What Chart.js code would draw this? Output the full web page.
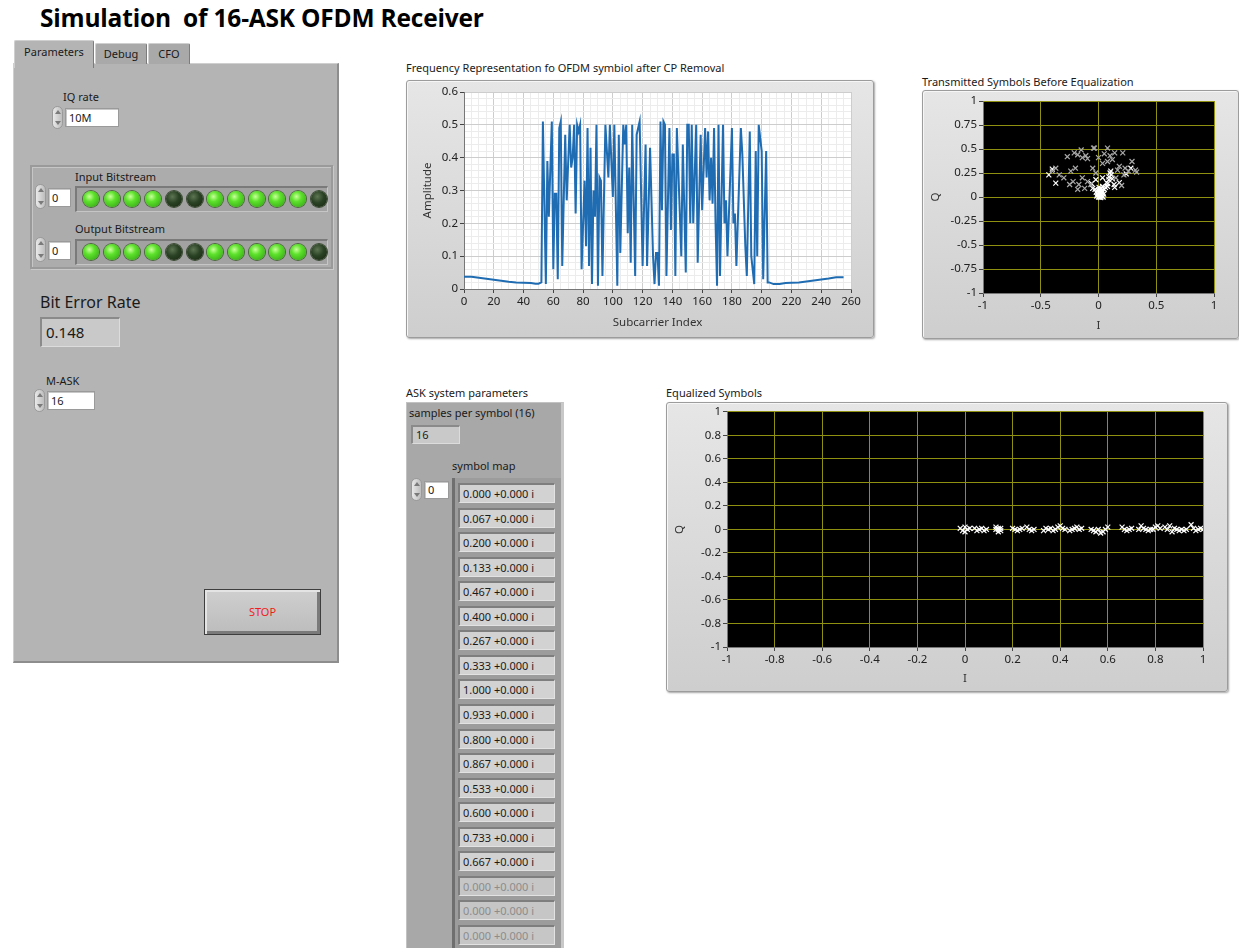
<!DOCTYPE html>
<html>
<head>
<meta charset="utf-8">
<script src="https://cdn.jsdelivr.net/npm/chart.js@4.4.1/dist/chart.umd.min.js"></script>
<style>
body { margin:0; background:#fff; font-family:"Noto Sans", sans-serif; color:#1a1a1a; width:1239px; height:948px; overflow:hidden; position:relative; }
.title { position:absolute; left:40px; top:1px; font-family:"Open Sans", sans-serif; font-size:24.5px; font-weight:bold; color:#000; white-space:nowrap; letter-spacing:-0.2px; }
.lbl { position:absolute; font-size:11px; white-space:nowrap; color:#1a1a1a; }
.frame { position:absolute; background:linear-gradient(#e6e6e6,#cecece); border:1px solid #9c9c9c; border-radius:3px; box-shadow:1px 1px 2px rgba(0,0,0,.35), inset 1px 1px 0 #f6f6f6; }
.frame canvas { position:absolute; left:0; top:0; }
.panel { position:absolute; left:13px; top:63px; width:323px; height:597px; background:#b4b4b4; border-left:1px solid #cfcfcf; border-top:1px solid #cfcfcf; border-right:2px solid #8d8d8d; border-bottom:2px solid #8d8d8d; }
.tab { position:absolute; font-size:11px; text-align:center; background:#a9a9a9; border:1px solid #cfcfcf; border-right:1px solid #7c7c7c; border-bottom:none; border-radius:2px 2px 0 0; }
.tab.on { background:#b4b4b4; z-index:2; }
.spin { position:absolute; width:11px; border-radius:6px; background:linear-gradient(90deg,#e9e9e9,#bdbdbd); border:1px solid #9a9a9a; box-sizing:border-box; }
.spin:before, .spin:after { content:""; position:absolute; left:2px; border-left:3px solid transparent; border-right:3px solid transparent; }
.spin:before { top:3px; border-bottom:4px solid #7a7a7a; }
.spin:after { bottom:3px; border-top:4px solid #7a7a7a; }
.num { position:absolute; background:#fff; border:1px solid #9a9a9a; box-shadow:inset 1px 1px 0 #c8c8c8; font-size:11px; padding-left:3px; box-sizing:border-box; line-height:17px; }
.cluster { position:absolute; left:30px; top:165px; width:299px; height:100px; background:#acacac; border:2px solid #9a9a9a; box-shadow:inset 1px 1px 0 #c6c6c6, 1px 1px 0 #c9c9c9; }
.ledbox { position:absolute; height:23px; background:#a2a2a2; border-top:2px solid #7a7a7a; border-left:2px solid #7a7a7a; border-bottom:1px solid #c6c6c6; border-right:1px solid #c6c6c6; }
.led { position:absolute; width:16px; height:16px; border-radius:50%; top:3px; }
.led.g { background:radial-gradient(circle at 40% 35%, #c8ff9a 0%, #5ee22c 35%, #2f9d12 100%); box-shadow:0 0 0 1px #4a6a3a; }
.led.d { background:radial-gradient(circle at 40% 35%, #5d7552 0%, #2a4224 45%, #16240f 100%); box-shadow:0 0 0 1px #3a4a32; }
.ind { position:absolute; background:#c9c9c9; border-top:2px solid #8a8a8a; border-left:2px solid #8a8a8a; border-bottom:1px solid #dcdcdc; border-right:1px solid #dcdcdc; box-sizing:border-box; }
.stop { position:absolute; left:204px; top:589px; width:117px; height:46px; box-sizing:border-box; border:1px solid #3e3e3e; background:linear-gradient(#cfcfcf,#bcbcbc); box-shadow:inset 2px 2px 0 #e4e4e4, inset -3px -3px 0 #7a7a7a; color:#ee1c1c; font-size:11px; text-align:center; line-height:44px; }
.ask { position:absolute; left:406px; top:402px; width:154px; height:560px; background:#a8a8a8; border-left:1px solid #c2c2c2; border-top:1px solid #c2c2c2; border-right:3px solid #c8c8c8; }
.arr { position:absolute; left:452px; top:478px; width:106px; height:480px; background:#9c9c9c; border-left:3px solid #6f6f6f; }
.cell { position:absolute; left:458px; width:97px; height:20px; box-sizing:border-box; background:#d2d2d2; border-top:2px solid #7e7e7e; border-left:2px solid #7e7e7e; border-bottom:1px solid #e2e2e2; border-right:1px solid #e2e2e2; font-size:11px; line-height:17px; padding-left:3px; white-space:nowrap; }
.cell.off { color:#8c8c8c; background:#c6c6c6; }
</style>
</head>
<body>
<div class="title">Simulation&nbsp; of 16-ASK OFDM Receiver</div>

<!-- tab control -->
<div class="panel"></div>
<div class="tab on" style="left:14px;top:40px;width:78px;height:27px;line-height:22px;">Parameters</div>
<div class="tab" style="left:95px;top:43px;width:50px;height:20px;line-height:20px;">Debug</div>
<div class="tab" style="left:148px;top:43px;width:40px;height:20px;line-height:20px;">CFO</div>

<div class="lbl" style="left:63px;top:89px;">IQ rate</div>
<div class="spin" style="left:52px;top:106px;height:23px;"></div>
<div class="num" style="left:65px;top:108px;width:54px;height:19px;">10M</div>

<div class="cluster"></div>
<div class="lbl" style="left:75px;top:169px;">Input Bitstream</div>
<div class="spin" style="left:35px;top:184px;height:25px;"></div>
<div class="num" style="left:48px;top:188px;width:23px;height:19px;">0</div>
<div class="ledbox" id="ledIn" style="left:75px;top:186px;width:250px;"></div>
<div class="lbl" style="left:75px;top:221px;">Output Bitstream</div>
<div class="spin" style="left:35px;top:237px;height:25px;"></div>
<div class="num" style="left:48px;top:241px;width:23px;height:19px;">0</div>
<div class="ledbox" id="ledOut" style="left:75px;top:239px;width:250px;"></div>

<div class="lbl" style="left:40px;top:291px;font-size:16px;">Bit Error Rate</div>
<div class="ind" style="left:40px;top:317px;width:80px;height:30px;font-size:15px;line-height:26px;padding-left:4px;" id="ber"></div>

<div class="lbl" style="left:46px;top:373px;">M-ASK</div>
<div class="spin" style="left:34px;top:389px;height:23px;"></div>
<div class="num" style="left:47px;top:391px;width:48px;height:19px;" id="mask"></div>

<div class="stop">STOP</div>

<!-- frequency graph -->
<div class="lbl" style="left:406px;top:60px;">Frequency Representation fo OFDM symbiol after CP Removal</div>
<div class="frame" style="left:406px;top:80px;width:466px;height:256px;"><canvas id="freqChart" width="466" height="256"></canvas></div>

<!-- transmitted symbols -->
<div class="lbl" style="left:922px;top:74px;">Transmitted Symbols Before Equalization</div>
<div class="frame" style="left:922px;top:90px;width:315px;height:247px;"><canvas id="txChart" width="315" height="247"></canvas></div>

<!-- ASK parameters -->
<div class="lbl" style="left:406px;top:385px;">ASK system parameters</div>
<div class="ask"></div>
<div class="lbl" style="left:409px;top:405px;">samples per symbol (16)</div>
<div class="ind" style="left:411px;top:425px;width:49px;height:19px;font-size:11px;line-height:15px;padding-left:3px;">16</div>
<div class="lbl" style="left:452px;top:458px;">symbol map</div>
<div class="arr"></div>
<div class="spin" style="left:411px;top:478px;height:23px;"></div>
<div class="num" style="left:424px;top:481px;width:25px;height:18px;line-height:15px;">0</div>
<div id="symMap"></div>

<!-- equalized symbols -->
<div class="lbl" style="left:666px;top:385px;">Equalized Symbols</div>
<div class="frame" style="left:666px;top:402px;width:560px;height:288px;"><canvas id="eqChart" width="560" height="288"></canvas></div>

<script>
// ---- values ----
const berValue = '0.148';
const mAsk = '16';
const inputBits = [1, 1, 1, 1, 0, 0, 1, 1, 1, 1, 1, 0];
const outputBits = [1, 1, 1, 1, 0, 0, 1, 1, 1, 1, 1, 0];
const symbolMap = ['0.000', '0.067', '0.200', '0.133', '0.467', '0.400', '0.267', '0.333',
                   '1.000', '0.933', '0.800', '0.867', '0.533', '0.600', '0.733', '0.667'];

// spectrum: subcarrier index vs amplitude
const freqIndex = [0, 5, 10, 15, 20, 25, 30, 35, 40, 45, 48, 50, 52,
  53, 55, 56, 57, 59, 60, 61, 62, 63, 64, 65, 66, 68, 69, 71, 72, 73, 74, 75, 76, 77, 78, 79,
  81, 82, 83, 84, 85, 86, 87, 88, 89, 90, 91, 92, 93, 95, 97, 98, 100, 101, 103, 104, 105,
  107, 108, 109, 110, 111, 112, 113, 115, 116, 118, 120, 122, 123, 125, 127, 128, 129, 130,
  131, 132, 133, 134, 135, 136, 138, 139, 140, 141, 142, 143, 146, 147, 149, 150, 151, 152,
  153, 154, 156, 157, 159, 160, 162, 163, 164, 165, 166, 167, 168, 169, 170, 171, 172, 174,
  175, 176, 177, 180, 181, 182, 183, 186, 187, 189, 190, 192, 193, 195, 196, 197, 198, 200,
  201, 203, 204,
  205, 208, 212, 216, 220, 225, 230, 235, 240, 245, 250, 255];
const freqAmp = [0.037, 0.037, 0.034, 0.031, 0.028, 0.025, 0.022, 0.020, 0.019, 0.018, 0.016, 0.016, 0.020,
  0.51, 0.015, 0.39, 0.22, 0.51, 0.06, 0.29, 0.29, 0.03, 0.49, 0.51, 0.07, 0.47, 0.27, 0.50, 0.37, 0.40, 0.50, 0.23, 0.50, 0.48, 0.50, 0.06,
  0.33, 0.13, 0.49, 0.07, 0.43, 0.015, 0.30, 0.22, 0.50, 0.01, 0.34, 0.33, 0.04, 0.50, 0.34, 0.50, 0.28, 0.50, 0.01, 0.47, 0.11,
  0.50, 0.44, 0.50, 0.17, 0.37, 0.08, 0.50, 0.04, 0.47, 0.51, 0.07, 0.44, 0.07, 0.43, 0.10, 0.015, 0.11, 0.11,
  0.01, 0.51, 0.24, 0.51, 0.50, 0.04, 0.49, 0.18, 0.41, 0.41, 0.04, 0.49, 0.10, 0.44, 0.05, 0.50, 0.50, 0.20,
  0.50, 0.20, 0.50, 0.08, 0.47, 0.24, 0.49, 0.34, 0.48, 0.27, 0.40, 0.26, 0.49, 0.20, 0.01, 0.50, 0.04, 0.50,
  0.20, 0.27, 0.10, 0.49, 0.20, 0.23, 0.07, 0.49, 0.41, 0.13, 0.04, 0.48, 0.10, 0.015, 0.42, 0.10, 0.50, 0.42,
  0.03, 0.42, 0.02,
  0.020, 0.015, 0.015, 0.018, 0.019, 0.020, 0.023, 0.026, 0.029, 0.032, 0.036, 0.036];
const freqXTicks = [0, 20, 40, 60, 80, 100, 120, 140, 160, 180, 200, 220, 240, 260];
const freqYTicks = [0, 0.1, 0.2, 0.3, 0.4, 0.5, 0.6];

// constellation before equalization (dim and bright markers)
const txDimI = [-0.043, -0.035, 0.078, -0.15, -0.21, -0.27, -0.14, -0.095, 0.0, 0.05, 0.14, 0.21, 0.12, 0.035, 0.078,
  0.29, 0.32, 0.33, 0.23, 0.165, -0.37, -0.40, -0.34, -0.30, -0.24, -0.20, -0.22, -0.25, -0.17, -0.18, -0.14,
  -0.095, -0.066, -0.12, -0.023, 0.15, 0.22, 0.26, -0.18, -0.11, 0.10, 0.18, -0.05, 0.20];
const txDimQ = [0.51, 0.51, 0.51, 0.49, 0.46, 0.42, 0.41, 0.40, 0.41, 0.45, 0.46, 0.46, 0.39, 0.35, 0.37,
  0.37, 0.28, 0.26, 0.30, 0.28, 0.30, 0.27, 0.23, 0.20, 0.27, 0.30, 0.16, 0.13, 0.13, 0.08, 0.20,
  0.16, 0.13, 0.09, 0.25, 0.20, 0.23, 0.27, 0.44, 0.43, 0.43, 0.32, 0.30, 0.12];
const txBrightI = [-0.43, -0.37, -0.40, 0.106, 0.09, 0.035, 0.18, 0.135, 0.078, 0.035, -0.05, -0.023, 0.10, 0.09,
  0.12, 0.11, 0.07, 0.14, 0.0, 0.01, 0.02, -0.01, 0.005, 0.015, 0.03, 0.0, 0.02, -0.015, 0.025, 0.01, 0.035,
  -0.005, 0.04, 0.01, 0.02, 0.0, 0.03, -0.02, 0.045, 0.05, 0.06, 0.08, -0.03, 0.005, 0.025, -0.06, 0.24, 0.28];
const txBrightQ = [0.23, 0.145, 0.29, 0.27, 0.21, 0.20, 0.15, 0.13, 0.11, 0.11, 0.09, 0.18, 0.25, 0.18,
  0.19, 0.23, 0.15, 0.10, 0.0, 0.01, 0.02, 0.03, 0.05, 0.04, 0.01, 0.07, 0.06, 0.01, 0.03, 0.08, 0.05,
  0.02, 0.0, 0.0, -0.005, 0.04, 0.07, 0.05, 0.03, 0.08, 0.10, 0.14, 0.08, 0.10, 0.09, 0.14, 0.24, 0.30];
const txITicks = [-1, -0.5, 0, 0.5, 1];
const txQTicks = [-1, -0.75, -0.5, -0.25, 0, 0.25, 0.5, 0.75, 1];

// constellation after equalization
const eqI = [-0.02, 0.0, 0.01, -0.01, 0.02, 0.0,
  0.04, 0.06, 0.07, 0.08, 0.05, 0.09,
  0.13, 0.14, 0.15, 0.14, 0.13, 0.15, 0.14,
  0.20, 0.22, 0.23, 0.21, 0.24,
  0.26, 0.27, 0.28, 0.29,
  0.33, 0.35, 0.34, 0.36, 0.37,
  0.39, 0.40, 0.41, 0.38, 0.42,
  0.44, 0.46, 0.47, 0.48, 0.49, 0.45,
  0.53, 0.54, 0.55, 0.56, 0.57, 0.58,
  0.60, 0.59,
  0.66, 0.67, 0.68, 0.69, 0.70,
  0.73, 0.74, 0.75, 0.76, 0.77,
  0.79, 0.80, 0.81, 0.82, 0.78,
  0.84, 0.85, 0.86, 0.87, 0.88,
  0.89, 0.90, 0.91, 0.92, 0.93,
  0.95, 0.96, 0.97, 0.98, 0.99, 1.0];
const eqQ = [0.01, -0.02, 0.0, -0.01, 0.01, 0.02,
  0.01, 0.0, 0.01, -0.01, -0.01, 0.0,
  0.0, 0.01, -0.01, -0.02, 0.02, 0.01, 0.0,
  0.01, -0.01, 0.0, 0.0, 0.01,
  0.02, 0.0, -0.01, 0.0,
  -0.01, 0.0, 0.01, 0.01, -0.01,
  0.02, 0.03, 0.01, 0.0, 0.0,
  -0.01, 0.01, 0.02, 0.0, 0.01, 0.0,
  0.0, -0.01, -0.02, 0.0, -0.03, -0.02,
  0.02, 0.0,
  0.02, 0.0, -0.01, 0.0, 0.01,
  0.0, 0.03, 0.01, 0.0, -0.01,
  0.0, 0.02, 0.03, 0.01, 0.0,
  0.02, 0.0, 0.03, -0.02, 0.01,
  0.0, -0.01, 0.0, -0.01, 0.0,
  0.04, 0.01, -0.01, 0.0, 0.01, 0.0];
const eqTicks = [-1, -0.8, -0.6, -0.4, -0.2, 0, 0.2, 0.4, 0.6, 0.8, 1];

// ---- front panel widgets ----
function drawLeds(id, bits) {
  const box = document.getElementById(id);
  bits.forEach((b, i) => {
    const d = document.createElement('div');
    d.className = 'led ' + (b ? 'g' : 'd');
    d.style.left = (6 + i * 20.7) + 'px';
    box.appendChild(d);
  });
}
drawLeds('ledIn', inputBits);
drawLeds('ledOut', outputBits);
document.getElementById('ber').textContent = berValue;
document.getElementById('mask').textContent = mAsk;

const mapBox = document.getElementById('symMap');
for (let i = 0; i < 19; i++) {
  const c = document.createElement('div');
  const used = i < symbolMap.length;
  c.className = 'cell' + (used ? '' : ' off');
  c.style.top = (483 + i * 24.55) + 'px';
  c.textContent = (used ? symbolMap[i] : '0.000') + ' +0.000 i';
  mapBox.appendChild(c);
}

// ---- charts ----
Chart.defaults.font.family = '"Noto Sans", sans-serif';
Chart.defaults.font.size = 11;
Chart.defaults.color = '#222';

const plotBg = {
  id: 'plotBg',
  beforeDraw(chart, args, opts) {
    const a = chart.chartArea;
    chart.ctx.save();
    chart.ctx.fillStyle = opts.color;
    chart.ctx.fillRect(a.left, a.top, a.right - a.left, a.bottom - a.top);
    chart.ctx.restore();
  }
};

function axis(ticks, labelOf, opts) {
  return {
    type: 'linear',
    min: ticks[0],
    max: ticks[ticks.length - 1],
    afterBuildTicks: s => { s.ticks = opts.values.map(v => ({ value: v })); },
    afterFit: s => { if (opts.width) s.width = opts.width; if (opts.height) s.height = opts.height; },
    ticks: { autoSkip: false, maxRotation: 0, padding: 2, color: '#222', font: { size: 11.5 }, callback: labelOf },
    grid: { color: opts.grid, tickColor: opts.tick, tickLength: 4, drawTicks: true },
    border: { display: true, color: '#777' },
    title: { display: true, text: opts.title, color: '#333', font: { size: 11.5 }, padding: opts.titlePad || 2 }
  };
}

// frequency graph with minor grid lines
const fxAll = [], fyAll = [];
for (let v = 0; v <= 260; v += 5) fxAll.push(v);
for (let k = 0; k <= 30; k++) fyAll.push(Math.round(k * 2) / 100);
const isMajX = v => freqXTicks.includes(v);
const isMajY = v => freqYTicks.includes(Math.round(v * 100) / 100);

new Chart(document.getElementById('freqChart'), {
  type: 'scatter',
  data: {
    datasets: [{
      data: freqIndex.map((x, i) => ({ x: x, y: freqAmp[i] })),
      showLine: true,
      borderColor: '#1f6cb2',
      borderWidth: 2,
      pointRadius: 0,
      tension: 0
    }]
  },
  options: {
    responsive: false,
    animation: false,
    events: [],
    layout: { padding: { top: 11, right: 22, left: 0, bottom: 0 } },
    plugins: { legend: { display: false }, tooltip: { enabled: false }, plotBg: { color: '#ffffff' } },
    scales: {
      x: axis(freqXTicks, v => isMajX(v) ? String(v) : '', {
        values: fxAll, height: 48, title: 'Subcarrier Index', titlePad: { top: 0, bottom: 7 },
        grid: c => isMajX(c.tick.value) ? '#cdcdcd' : '#ececec',
        tick: c => isMajX(c.tick.value) ? '#444' : 'rgba(0,0,0,0)'
      }),
      y: axis(freqYTicks, v => isMajY(v) ? String(Math.round(v * 10) / 10) : '', {
        values: fyAll, width: 57, title: 'Amplitude', titlePad: { top: 14, bottom: 0 },
        grid: c => isMajY(c.tick.value) ? '#cdcdcd' : '#ececec',
        tick: c => isMajY(c.tick.value) ? '#444' : 'rgba(0,0,0,0)'
      })
    }
  },
  plugins: [plotBg]
});

function constellation(id, sets, iTicks, qTicks, pad, w, h) {
  new Chart(document.getElementById(id), {
    type: 'scatter',
    data: {
      datasets: sets.map(s => ({
        data: s.i.map((x, k) => ({ x: x, y: s.q[k] })),
        pointStyle: 'crossRot',
        pointRadius: 3.5,
        borderWidth: 1.2,
        borderColor: s.color,
        backgroundColor: s.color
      }))
    },
    options: {
      responsive: false,
      animation: false,
      events: [],
      layout: { padding: pad },
      plugins: { legend: { display: false }, tooltip: { enabled: false }, plotBg: { color: '#000000' } },
      scales: {
        x: axis(iTicks, v => String(v), { values: iTicks, height: h, title: 'I', grid: '#8f8f10', tick: '#444', titlePad: { top: 0, bottom: 5 } }),
        y: axis(qTicks, v => String(v), { values: qTicks, width: w, title: 'Q', grid: '#8f8f10', tick: '#444', titlePad: { top: 6, bottom: 0 } })
      }
    },
    plugins: [plotBg]
  });
}

constellation('txChart', [
  { i: txDimI, q: txDimQ, color: '#a9a9a9' },
  { i: txBrightI, q: txBrightQ, color: '#ffffff' }
], txITicks, txQTicks, { top: 10, right: 24, left: 0, bottom: 0 }, 60, 45);

constellation('eqChart', [
  { i: eqI, q: eqQ, color: '#ffffff' }
], eqTicks, eqTicks, { top: 8, right: 24, left: 0, bottom: 0 }, 60, 44);
</script>
</body>
</html>
